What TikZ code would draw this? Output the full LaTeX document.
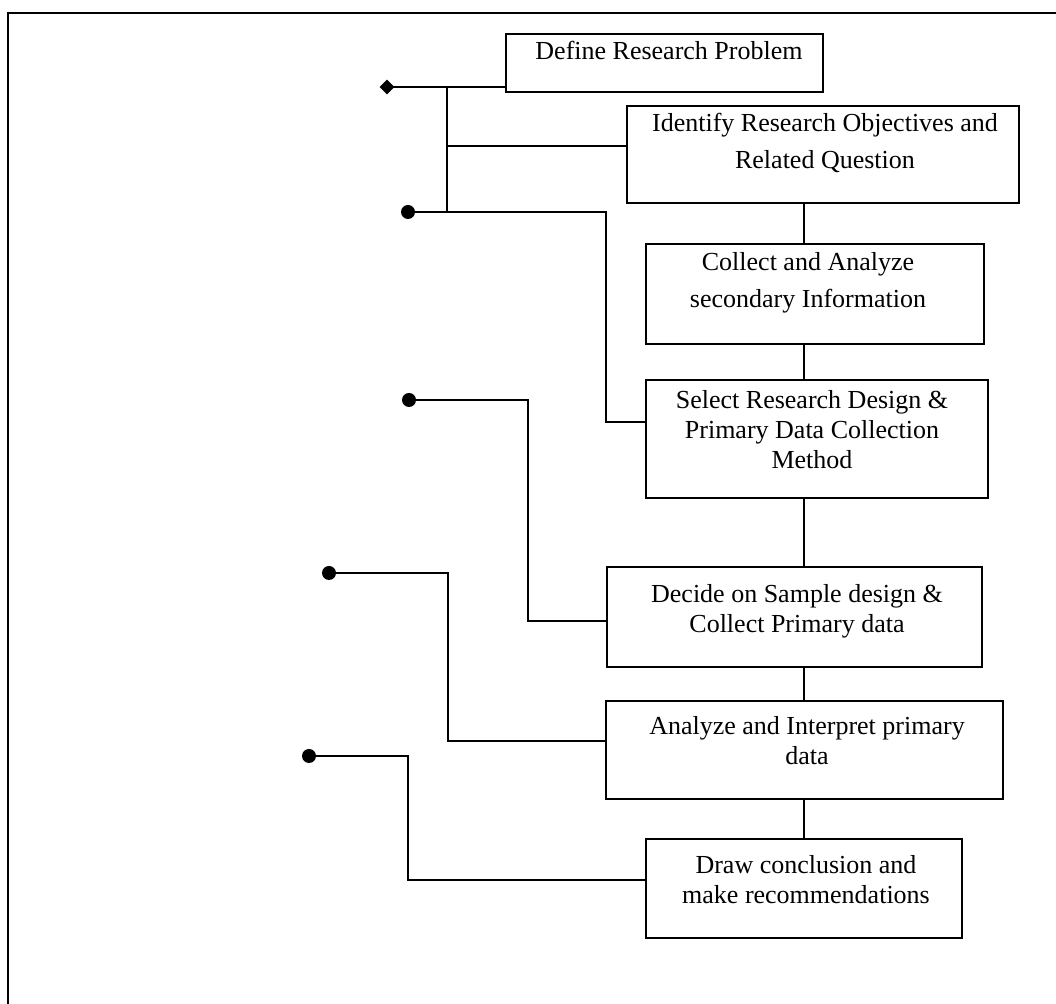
\documentclass[tikz,border=0pt]{standalone}
\usepackage{fontspec}
\setmainfont{Liberation Serif}
\usetikzlibrary{shapes.geometric}
\begin{document}
\begin{tikzpicture}[x=0.5pt,y=-0.5pt,
  box/.style={draw, line width=1pt, inner sep=0pt, rectangle},
  txt/.style={align=center, inner sep=0pt, anchor=north, font=\fontsize{13pt}{15pt}\selectfont},
  wide/.style={font=\fontsize{13pt}{18.5pt}\selectfont},
  link/.style={line width=0.7pt},
  dotmark/.style={circle, fill=black, inner sep=0pt, minimum size=7pt},
  diamark/.style={diamond, fill=black, inner sep=0pt, minimum width=7.5pt, minimum height=7.5pt}]
\useasboundingbox (0,0) rectangle (1056,1004);
\fill[white] (0,0) rectangle (1056,1004);
% outer frame
\draw[line width=0.6pt] (8,1004) -- (8,13) -- (1056,13);

% boxes
\node[box, minimum width=158.5pt, minimum height=29pt]   (b1) at (664.5,63)  {};
\node[box, minimum width=196pt,   minimum height=48.5pt] (b2) at (823,154.5) {};
\node[box, minimum width=169pt,   minimum height=50pt]   (b3) at (815,294)   {};
\node[box, minimum width=171pt,   minimum height=59pt]   (b4) at (817,439)   {};
\node[box, minimum width=187.5pt, minimum height=50pt]   (b5) at (794.5,617) {};
\node[box, minimum width=198.5pt, minimum height=49pt]   (b6) at (804.5,750) {};
\node[box, minimum width=158pt,   minimum height=49.5pt] (b7) at (804,888.5) {};

% texts
\node[txt] (t1) at (669,41)  {Define Research Problem};
\node[txt, wide] (t2) at (825,113) {Identify Research Objectives and\\Related Question};
\node[txt, wide] (t3) at (808,252) {Collect and Analyze\\secondary Information};
\node[txt] (t4) at (812,390) {Select Research Design \&\\Primary Data Collection\\Method};
\node[txt] (t5) at (797,584) {Decide on Sample design \&\\Collect Primary data};
\node[txt] (t6) at (807,716) {Analyze and Interpret primary\\data};
\node[txt] (t7) at (806,855) {Draw conclusion and\\make recommendations};

% main spine
\coordinate (spine) at (804,0);
\draw[link] (b2.south -| spine) -- (b3.north -| spine);
\draw[link] (b3.south -| spine) -- (b4.north -| spine);
\draw[link] (b4.south -| spine) -- (b5.north -| spine);
\draw[link] (b5.south -| spine) -- (b6.north -| spine);
\draw[link] (b6.south -| spine) -- (b7.north -| spine);

% left-hand feedback lines
\coordinate (j1) at (447,87);
\coordinate (j2) at (447,212);
\coordinate (j3) at (447,146);
\node[diamark] (dm) at (387,87) {};
\draw[link] (dm.center) -- (dm -| b1.west);
\draw[link] (j1) -- (j2);
\draw[link] (j3) -- (j3 -| b2.west);

\coordinate (k1) at (606,422);
\coordinate (k2) at (528,621);
\coordinate (k3) at (448,741);
\coordinate (k4) at (408,880);
\draw[link] (408,212) coordinate (s1) -| (k1) -- (k1 -| b4.west);
\draw[link] (409,400) coordinate (s2) -| (k2) -- (k2 -| b5.west);
\draw[link] (329,573) coordinate (s3) -| (k3) -- (k3 -| b6.west);
\draw[link] (309,756) coordinate (s4) -| (k4) -- (k4 -| b7.west);
\node[dotmark] (d1) at (s1) {};
\node[dotmark] (d2) at (s2) {};
\node[dotmark] (d3) at (s3) {};
\node[dotmark] (d4) at (s4) {};
\end{tikzpicture}
\end{document}
